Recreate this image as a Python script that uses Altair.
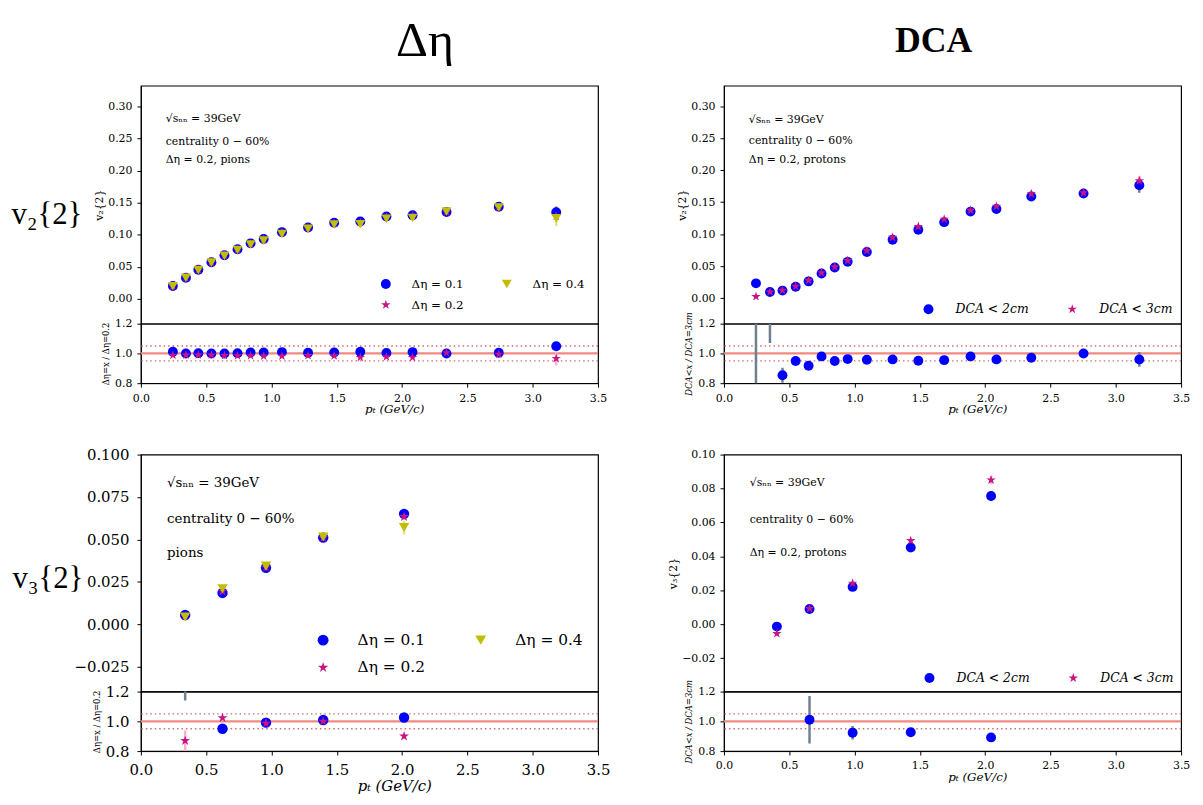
import altair as alt
import pandas as pd

# ------------------------------------------------------------------ data
# top-left : v2{2} of pions, three eta gaps
tl_pt = [0.245, 0.345, 0.44, 0.54, 0.64, 0.74, 0.84, 0.94, 1.08, 1.28, 1.48, 1.68, 1.88, 2.08, 2.34, 2.74, 3.18]
tl_d01 = [0.0201, 0.0330, 0.0454, 0.0572, 0.0680, 0.0773, 0.0866, 0.0933, 0.1041, 0.1113, 0.1186, 0.1206, 0.1284, 0.1304, 0.1355, 0.1438, 0.1350]
tl_d01_err = [0.001, 0.001, 0.001, 0.001, 0.001, 0.001, 0.001, 0.001, 0.001, 0.0015, 0.0015, 0.002, 0.002, 0.002, 0.003, 0.004, 0.009]
tl_d02 = [0.0199, 0.0330, 0.0453, 0.0571, 0.0680, 0.0772, 0.0860, 0.0925, 0.1031, 0.1107, 0.1180, 0.1193, 0.1278, 0.1297, 0.1355, 0.1431, 0.1290]
tl_d02_err = [0.001, 0.001, 0.001, 0.001, 0.001, 0.001, 0.001, 0.001, 0.001, 0.0015, 0.0015, 0.002, 0.002, 0.002, 0.003, 0.004, 0.008]
tl_d04 = [0.0197, 0.0327, 0.0448, 0.0565, 0.0671, 0.0761, 0.0847, 0.0909, 0.1013, 0.1092, 0.1161, 0.1165, 0.1249, 0.1262, 0.1362, 0.1424, 0.1255]
tl_d04_err = [0.001, 0.001, 0.001, 0.001, 0.001, 0.001, 0.001, 0.001, 0.001, 0.0015, 0.0015, 0.002, 0.002, 0.002, 0.003, 0.004, 0.012]
tl_r01 = [1.011, 1.000, 1.002, 1.000, 1.000, 1.002, 1.007, 1.007, 1.009, 1.005, 1.007, 1.011, 1.003, 1.009, 1.000, 1.005, 1.048]
tl_r01_err = [0.004, 0.004, 0.004, 0.004, 0.004, 0.004, 0.004, 0.004, 0.005, 0.005, 0.005, 0.006, 0.006, 0.006, 0.008, 0.008, 0.01]
tl_r04 = [0.988, 0.990, 0.990, 0.990, 0.986, 0.985, 0.985, 0.982, 0.982, 0.986, 0.984, 0.973, 0.977, 0.973, 1.005, 0.995, 0.966]
tl_r04_err = [0.004, 0.004, 0.004, 0.004, 0.004, 0.004, 0.004, 0.004, 0.005, 0.005, 0.005, 0.006, 0.006, 0.006, 0.008, 0.008, 0.045]

# top-right : v2{2} of protons, two DCA cuts
tr_pt = [0.245, 0.352, 0.448, 0.549, 0.648, 0.747, 0.848, 0.947, 1.094, 1.291, 1.488, 1.686, 1.888, 2.086, 2.353, 2.753, 3.18]
tr_dca2 = [0.0232, 0.0098, 0.0119, 0.0180, 0.0263, 0.0387, 0.0480, 0.0568, 0.0723, 0.0914, 0.1069, 0.1188, 0.1353, 0.1394, 0.1590, 0.1637, 0.1766]
tr_dca2_err = [0.002, 0.0015, 0.0015, 0.0015, 0.0015, 0.0015, 0.0015, 0.0015, 0.0015, 0.002, 0.002, 0.002, 0.002, 0.002, 0.003, 0.004, 0.012]
tr_dca3 = [0.0026, 0.0098, 0.0124, 0.0186, 0.0279, 0.0398, 0.0490, 0.0589, 0.0744, 0.0950, 0.1120, 0.1234, 0.1373, 0.1435, 0.1632, 0.1647, 0.1833]
tr_dca3_err = [0.002, 0.0015, 0.0015, 0.0015, 0.0015, 0.0015, 0.0015, 0.0015, 0.0015, 0.002, 0.002, 0.002, 0.002, 0.002, 0.003, 0.004, 0.008]
tr_r = [7.3, 1.35, 0.853, 0.949, 0.917, 0.980, 0.949, 0.962, 0.958, 0.960, 0.951, 0.955, 0.980, 0.960, 0.971, 1.000, 0.960]
tr_r_err = [8.0, 0.28, 0.05, 0.012, 0.01, 0.01, 0.008, 0.008, 0.008, 0.008, 0.008, 0.01, 0.01, 0.01, 0.012, 0.015, 0.05]

# bottom-left : v3{2} of pions
bl_pt = [0.339, 0.625, 0.958, 1.396, 2.015]
bl_d01 = [0.0055, 0.0185, 0.0333, 0.0511, 0.0651]
bl_d01_err = [0.001, 0.001, 0.001, 0.001, 0.0025]
bl_d02 = [0.0047, 0.0195, 0.0335, 0.0510, 0.0634]
bl_d02_err = [0.001, 0.001, 0.001, 0.001, 0.002]
bl_d04 = [0.0043, 0.0210, 0.0343, 0.0515, 0.0570]
bl_d04_err = [0.001, 0.0015, 0.001, 0.001, 0.004]
bl_r01 = [1.35, 0.950, 0.991, 1.009, 1.026]
bl_r01_err = [0.21, 0.01, 0.01, 0.012, 0.012]
bl_r04 = [0.870, 1.024, 0.987, 1.000, 0.900]
bl_r04_err = [0.07, 0.01, 0.01, 0.012, 0.015]

# bottom-right : v3{2} of protons
br_pt = [0.405, 0.655, 0.985, 1.43, 2.045]
br_dca2 = [-0.0014, 0.0090, 0.0220, 0.0452, 0.0756]
br_dca2_err = [0.0015, 0.001, 0.001, 0.001, 0.003]
br_dca3 = [-0.0055, 0.0092, 0.0242, 0.0493, 0.0850]
br_dca3_err = [0.0012, 0.001, 0.001, 0.001, 0.0025]
br_r_pt = [0.655, 0.985, 1.43, 2.045]
br_r = [1.011, 0.923, 0.927, 0.892]
br_r_err = [0.16, 0.045, 0.01, 0.012]

ETA = ["Δη = 0.1", "Δη = 0.2", "Δη = 0.4"]
DCA = ["DCA < 2cm", "DCA < 3cm"]
X_TICKS = [0.0, 0.5, 1.0, 1.5, 2.0, 2.5, 3.0, 3.5]

# ------------------------------------------------------------------ style
SERIF = "DejaVu Serif"
BIGF = "Liberation Serif"
BLUE, MAG, OLIVE = "#0000ff", "#c71585", "#bfbf00"
E_BLUE, E_MAG, E_OLIVE = "#70808f", "#ffb3c6", "#e3e38a"
STAR = ("M0,-1L0.2245,-0.309L0.951,-0.309L0.363,0.118L0.588,0.809L0,0.382"
        "L-0.588,0.809L-0.363,0.118L-0.951,-0.309L-0.2245,-0.309Z")
W = 461
one = pd.DataFrame({"k": [0]})


def frame(groups):
    rows = []
    for name, pts, vals, errs, ecol in groups:
        for p, v, e in zip(pts, vals, errs):
            rows.append({"pt": p, "val": v, "lo": v - e, "hi": v + e,
                         "series": name, "ecol": ecol})
    return pd.DataFrame(rows)


def xs():
    return alt.Scale(domain=[0, 3.5], nice=False, zero=False)


def data_layers(df, yscale, yaxis, xaxis, order, colors, shapes, legend, size):
    x = alt.X("pt:Q", scale=xs(), axis=xaxis)
    err = alt.Chart(df).mark_rule(strokeWidth=2.5, clip=True).encode(
        x=x, y=alt.Y("lo:Q", scale=yscale, axis=yaxis), y2="hi:Q",
        stroke=alt.Stroke("ecol:N", scale=None))
    pts = alt.Chart(df).mark_point(filled=True, opacity=1, size=size, clip=True).encode(
        x=x, y=alt.Y("val:Q", scale=yscale, axis=yaxis),
        color=alt.Color("series:N", scale=alt.Scale(domain=order, range=colors), legend=legend),
        shape=alt.Shape("series:N", scale=alt.Scale(domain=order, range=shapes), legend=legend))
    return [err, pts]


def note(text, x, y, fs, yscale, yaxis):
    return alt.Chart(one).mark_text(text=text, align="left", baseline="middle",
                                    font=SERIF, fontSize=fs, color="black").encode(
        x=alt.XDatum(x, scale=xs(), axis=None),
        y=alt.YDatum(y, scale=yscale, axis=yaxis))


def big_label(text, px, py):
    return alt.Chart(one).mark_text(text=text, align="right", baseline="middle",
                                    font=BIGF, fontSize=31, color="black").encode(
        x=alt.value(px), y=alt.value(py))


def legend(fs, label_offset, col_pad, row_pad, offset, size, italic=False):
    kw = dict(title=None, orient="bottom-right", columns=2, offset=offset, padding=0,
              labelFont=SERIF, labelFontSize=fs, labelOffset=label_offset,
              columnPadding=col_pad, rowPadding=row_pad, symbolSize=size,
              symbolStrokeWidth=0, labelColor="black")
    if italic:
        kw["labelFontStyle"] = "italic"
    return alt.Legend(**kw)


def main_panel(df, order, colors, shapes, ydom, yticks, yfmt, ytitle, fs, lpad, leg,
               notes, note_fs, height, size, extra=None, title=None):
    yscale = alt.Scale(domain=ydom, nice=False, zero=False)
    ak = dict(values=yticks, format=yfmt, labelFont=SERIF, labelFontSize=fs,
              tickSize=4, labelPadding=lpad, grid=False)
    if ytitle:
        ak.update(title=ytitle, titleFont=SERIF, titleFontSize=fs, titleFontWeight="normal",
                  titlePadding=3)
    else:
        ak["title"] = None
    yaxis = alt.Axis(**ak)
    layers = data_layers(df, yscale, yaxis, None, order, colors, shapes, leg, size)
    for t, x, y in notes:
        layers.append(note(t, x, y, note_fs, yscale, yaxis))
    if extra is not None:
        layers.append(extra)
    ch = alt.layer(*layers).properties(width=W, height=height)
    if title is not None:
        ch = ch.properties(title=title)
    return ch


def ratio_panel(df, order, colors, shapes, ytitle, title_italic, fs, xtitle_fs, lpad, size):
    rscale = alt.Scale(domain=[0.8, 1.2], nice=False, zero=False)
    raxis = alt.Axis(values=[0.8, 1.0, 1.2], format=".1f", labelFont=SERIF, labelFontSize=fs,
                     tickSize=4, labelPadding=lpad, grid=False, title=ytitle, titleFont=SERIF,
                     titleFontSize=8.5, titleFontWeight="normal", titlePadding=4,
                     titleFontStyle="italic" if title_italic else "normal")
    xaxis = alt.Axis(values=X_TICKS, format=".1f", labelFont=SERIF, labelFontSize=fs,
                     labelFlush=False, tickSize=4, labelPadding=lpad, grid=False,
                     title="pₜ (GeV/c)", titleFont=SERIF, titleFontSize=xtitle_fs,
                     titleFontStyle="italic", titleFontWeight="normal", titlePadding=1,
                     titleX=W / 2 + 25)
    lines = [
        alt.Chart(one).mark_rule(color="#f08a80", strokeWidth=2.2).encode(
            y=alt.YDatum(1.0, scale=rscale, axis=raxis)),
        alt.Chart(one).mark_rule(color="#c96f6f", strokeWidth=1.4, strokeDash=[1.5, 3]).encode(
            y=alt.YDatum(1.05, scale=rscale, axis=raxis)),
        alt.Chart(one).mark_rule(color="#c96f6f", strokeWidth=1.4, strokeDash=[1.5, 3]).encode(
            y=alt.YDatum(0.95, scale=rscale, axis=raxis)),
    ]
    layers = lines + data_layers(df, rscale, raxis, xaxis, order, colors, shapes, None, size)
    return alt.layer(*layers).properties(width=W, height=60)


def spacer():
    return alt.Chart(one).mark_point(opacity=0).encode(
        x=alt.X("k:Q", axis=None), y=alt.Y("k:Q", axis=None)
    ).properties(width=W, height=72, view=alt.ViewBackground(strokeOpacity=0))


# ------------------------------------------------------------------ panels
tl_df = frame([("Δη = 0.1", tl_pt, tl_d01, tl_d01_err, E_BLUE),
               ("Δη = 0.2", tl_pt, tl_d02, tl_d02_err, E_MAG),
               ("Δη = 0.4", tl_pt, tl_d04, tl_d04_err, E_OLIVE)])
tl_main = main_panel(
    tl_df, ETA, [BLUE, MAG, OLIVE], ["circle", STAR, "triangle-down"],
    [-0.0387, 0.3325], [0, 0.05, 0.10, 0.15, 0.20, 0.25, 0.30], ".2f", "v₂{2}", 11, 5,
    legend(12, 20, 37, 9, 13, 100),
    [("√sₙₙ = 39GeV", 0.19, 0.2804), ("centrality 0 − 60%", 0.19, 0.2454),
     ("Δη = 0.2, pions", 0.19, 0.216)], 11, 240, 100,
    extra=big_label("v₂{2}", -59, 130),
    title=alt.TitleParams("Δη", font=BIGF, fontSize=50, fontWeight="normal", anchor="middle",
                          frame="group", dx=56, offset=20, color="black"))

tl_rdf = frame([("Δη = 0.1", tl_pt, tl_r01, tl_r01_err, E_BLUE),
                ("Δη = 0.2", tl_pt, tl_r04, tl_r04_err, E_MAG)])
tl_ratio = ratio_panel(tl_rdf, ["Δη = 0.1", "Δη = 0.2"], [BLUE, MAG], ["circle", STAR],
                       "Δη=x / Δη=0.2", False, 11, 12, 5, 100)

tr_df = frame([("DCA < 2cm", tr_pt, tr_dca2, tr_dca2_err, E_BLUE),
               ("DCA < 3cm", tr_pt, tr_dca3, tr_dca3_err, E_MAG)])
tr_main = main_panel(
    tr_df, DCA, [BLUE, MAG], ["circle", STAR],
    [-0.0398, 0.332], [0, 0.05, 0.10, 0.15, 0.20, 0.25, 0.30], ".2f", "v₂{2}", 11, 5,
    legend(12.5, 21, 37, 9, 8, 100, italic=True),
    [("√sₙₙ = 39GeV", 0.19, 0.2786), ("centrality 0 − 60%", 0.19, 0.2455),
     ("Δη = 0.2, protons", 0.19, 0.2166)], 11, 240, 100,
    title=alt.TitleParams("DCA", font=BIGF, fontSize=36, fontWeight="bold", anchor="middle",
                          frame="group", dx=-19, offset=26, color="black"))

tr_rdf = frame([("DCA < 2cm", tr_pt, tr_r, tr_r_err, E_BLUE)])
tr_ratio = ratio_panel(tr_rdf, ["DCA < 2cm"], [BLUE], ["circle"],
                       "DCA<x / DCA=3cm", True, 11, 12, 5, 100)

bl_df = frame([("Δη = 0.1", bl_pt, bl_d01, bl_d01_err, E_BLUE),
               ("Δη = 0.2", bl_pt, bl_d02, bl_d02_err, E_MAG),
               ("Δη = 0.4", bl_pt, bl_d04, bl_d04_err, E_OLIVE)])
bl_main = main_panel(
    bl_df, ETA, [BLUE, MAG, OLIVE], ["circle", STAR, "triangle-down"],
    [-0.0396, 0.1], [-0.025, 0.0, 0.025, 0.05, 0.075, 0.1], ".3f", None, 15, 8,
    legend(15.5, 27, 48, 11, 15, 120),
    [("√sₙₙ = 39GeV", 0.2, 0.0833), ("centrality 0 − 60%", 0.2, 0.0618),
     ("pions", 0.2, 0.0423)], 13.5, 239, 110,
    extra=big_label("v₃{2}", -58, 126))

bl_rdf = frame([("Δη = 0.1", bl_pt, bl_r01, bl_r01_err, E_BLUE),
                ("Δη = 0.2", bl_pt, bl_r04, bl_r04_err, E_MAG)])
bl_ratio = ratio_panel(bl_rdf, ["Δη = 0.1", "Δη = 0.2"], [BLUE, MAG], ["circle", STAR],
                       "Δη=x / Δη=0.2", False, 15, 15, 8, 110)

br_df = frame([("DCA < 2cm", br_pt, br_dca2, br_dca2_err, E_BLUE),
               ("DCA < 3cm", br_pt, br_dca3, br_dca3_err, E_MAG)])
br_main = main_panel(
    br_df, DCA, [BLUE, MAG], ["circle", STAR],
    [-0.0397, 0.1], [-0.02, 0.0, 0.02, 0.04, 0.06, 0.08, 0.10], ".2f", "v₃{2}", 11, 5,
    legend(12.5, 21, 37, 9, 7, 100, italic=True),
    [("√sₙₙ = 39GeV", 0.197, 0.0833), ("centrality 0 − 60%", 0.197, 0.0612),
     ("Δη = 0.2, protons", 0.197, 0.0418)], 11, 239, 100)

br_rdf = frame([("DCA < 2cm", br_r_pt, br_r, br_r_err, E_BLUE)])
br_ratio = ratio_panel(br_rdf, ["DCA < 2cm"], [BLUE], ["circle"],
                       "DCA<x / DCA=3cm", True, 11, 12, 5, 100)

chart = alt.concat(
    tl_main, tr_main, tl_ratio, tr_ratio, spacer(), spacer(),
    bl_main, br_main, bl_ratio, br_ratio,
    columns=2, spacing={"row": 0, "column": 127}, bounds="flush",
).resolve_scale(
    x="independent", y="independent", color="independent", shape="independent"
).properties(
    padding={"left": 2, "top": 4, "right": 4, "bottom": 4}
).configure_view(
    stroke="black", strokeWidth=1.2
).configure_axis(
    domainColor="black", tickColor="black", labelColor="black", titleColor="black",
    domainWidth=1, tickWidth=1
)

chart.save("out.html", embed_options={"renderer": "svg", "actions": False})
